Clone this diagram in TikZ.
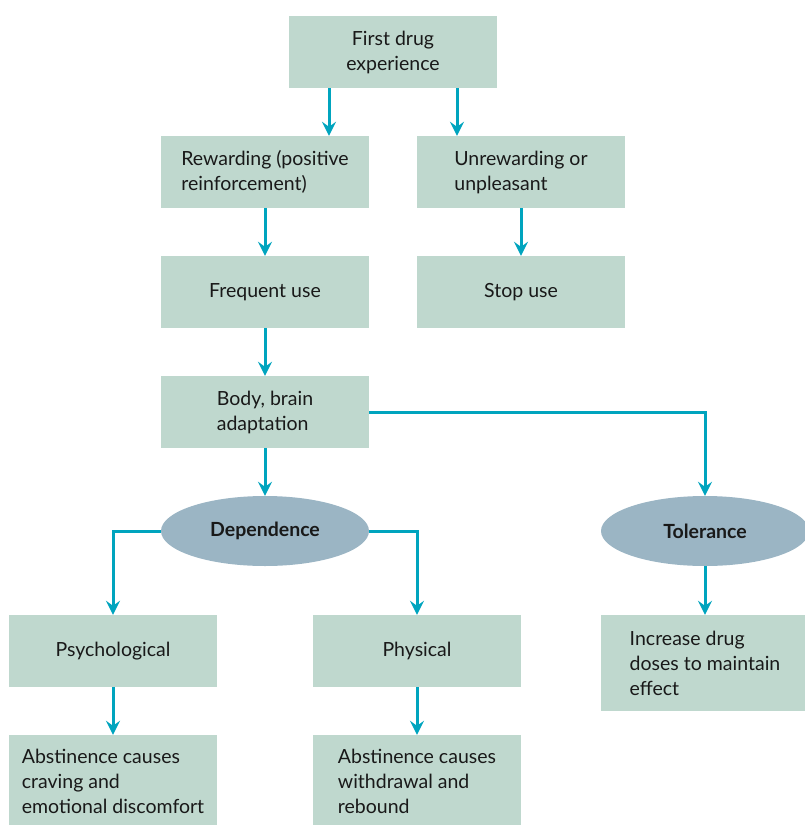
\documentclass[tikz,border=0pt]{standalone}
\usepackage{fontspec}
\setmainfont{Lato}
\usetikzlibrary{shapes.geometric,arrows.meta}
\definecolor{boxgreen}{RGB}{191,216,206}
\definecolor{ovalblue}{RGB}{155,181,196}
\definecolor{arrteal}{RGB}{0,164,190}
\begin{document}
\begin{tikzpicture}[x=1pt,y=-1pt,
  box/.style={fill=boxgreen,minimum width=208pt,minimum height=72pt,inner sep=0pt,align=left,font=\fontsize{19.5}{25}\selectfont,text=black!90},
  oval/.style={ellipse,fill=ovalblue,minimum width=208pt,minimum height=70pt,inner sep=0pt,font=\fontsize{19.5}{25}\selectfont\bfseries,text=black!90},
  arr/.style={draw=arrteal,line width=3pt,-{Stealth[length=14pt,width=14pt,inset=5pt]}}]
\useasboundingbox (0,0) rectangle (805,825);

\node[box,align=center] (first) at (393,52) {First drug\\experience};

\node[box] (reward) at (265,172) {Rewarding (positive\\reinforcement)};
\node[box] (unreward) at (521,172) {Unrewarding or\\unpleasant};
\path[arr] ([xshift=-64pt]first.south) -- ([xshift=-64pt]first.south |- reward.north);
\path[arr] ([xshift=64pt]first.south) -- ([xshift=64pt]first.south |- unreward.north);

\node[box] (frequent) at (265,292) {Frequent use};
\node[box] (stopuse) at (521,292) {Stop use};
\path[arr] (reward) -- (frequent);
\path[arr] (unreward) -- (stopuse);

\node[box] (adapt) at (265,412) {Body, brain\\adaptation};
\path[arr] (frequent) -- (adapt);

\node[oval] (depend) at (265,531) {Dependence};
\node[oval] (toler) at (705,531) {Tolerance};
\path[arr] (adapt) -- (depend);
\path[arr] (adapt.east) -| (toler.north);

\node[box] (psych) at (113,651) {Psychological};
\node[box] (phys) at (417,651) {Physical};
\node[box,minimum height=96pt] (increase) at (705,663) {Increase drug\\doses to maintain\\effect};
\path[arr] (depend.west) -| (psych.north);
\path[arr] (depend.east) -| (phys.north);
\path[arr] (toler) -- (increase);

\node[box,minimum height=92pt] (abspsych) at (113,781) {Abstinence causes\\craving and\\emotional discomfort};
\node[box,minimum height=92pt] (absphys) at (417,781) {Abstinence causes\\withdrawal and\\rebound};
\path[arr] (psych) -- (abspsych);
\path[arr] (phys) -- (absphys);
\end{tikzpicture}
\end{document}
